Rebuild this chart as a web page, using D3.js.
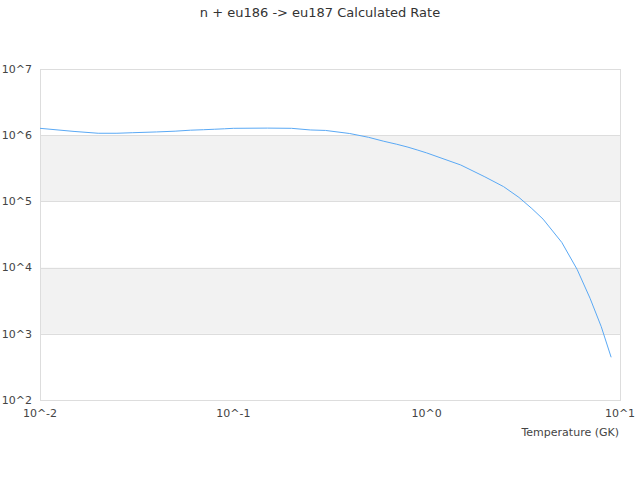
<!DOCTYPE html>
<html>
<head>
<meta charset="utf-8">
<script src="https://cdn.jsdelivr.net/npm/d3@7"></script>
<style>
  body { margin: 0; background: #fff; }
  svg { font-family: "DejaVu Sans", sans-serif; }
</style>
</head>
<body>
<div id="chart"></div>
<script>
// temperatures (GK) and calculated rates
var temps = [0.01, 0.015, 0.02, 0.025, 0.03, 0.04, 0.05, 0.06, 0.07, 0.08, 0.09, 0.1,
    0.15, 0.2, 0.25, 0.3, 0.4, 0.5, 0.6, 0.7, 0.8, 0.9, 1,
    1.5, 2, 2.5, 3, 3.5, 4, 5, 6, 7, 8, 9];
var rates = [1.27e6, 1.14e6, 1.07e6, 1.07e6, 1.09e6, 1.12e6, 1.15e6, 1.19e6, 1.21e6, 1.23e6, 1.25e6, 1.27e6,
    1.28e6, 1.27e6, 1.2e6, 1.18e6, 1.06e6, 9.3e5, 8.1e5, 7.3e5, 6.6e5, 5.95e5, 5.4e5,
    3.55e5, 2.35e5, 1.67e5, 1.15e5, 7.8e4, 5.4e4, 2.4e4, 9.4e3, 3.44e3, 1.28e3, 442];
var xTicks = [0.01, 0.1, 1, 10];
var xTickLabels = ['10^-2', '10^-1', '10^0', '10^1'];
var yTicks = [1e2, 1e3, 1e4, 1e5, 1e6, 1e7];
var yTickLabels = ['10^2', '10^3', '10^4', '10^5', '10^6', '10^7'];

var svgW = 640, svgH = 480;
var plotL = 40, plotR = 620, plotT = 69, plotB = 400;

var svg = d3.select('#chart').append('svg')
    .attr('width', svgW)
    .attr('height', svgH);

var x = d3.scaleLog().domain([0.01, 10]).range([plotL, plotR]);
var y = d3.scaleLog().domain([1e2, 1e7]).range([plotB, plotT]);

// alternating bands
var bands = yTicks.slice(0, -1).map(function(d, i) {
    return { lo: d, hi: yTicks[i + 1], i: i };
}).filter(function(b) { return b.i % 2 === 1; });

svg.selectAll('rect.band')
    .data(bands)
    .enter()
    .append('rect')
    .attr('class', 'band')
    .attr('x', plotL)
    .attr('width', plotR - plotL)
    .attr('y', function(d) { return y(d.hi); })
    .attr('height', function(d) { return y(d.lo) - y(d.hi); })
    .attr('fill', '#f2f2f2');

svg.selectAll('line.grid')
    .data(yTicks)
    .enter()
    .append('line')
    .attr('class', 'grid')
    .attr('x1', plotL)
    .attr('x2', plotR)
    .attr('y1', function(d) { return Math.round(y(d)) + 0.5; })
    .attr('y2', function(d) { return Math.round(y(d)) + 0.5; })
    .attr('stroke', '#dddddd');

svg.append('rect')
    .attr('x', plotL + 0.5)
    .attr('y', plotT + 0.5)
    .attr('width', plotR - plotL)
    .attr('height', plotB - plotT)
    .attr('fill', 'none')
    .attr('stroke', '#dddddd');

// curve
var line = d3.line()
    .x(function(d) { return x(d[0]); })
    .y(function(d) { return y(d[1]); });

svg.append('path')
    .datum(d3.zip(temps, rates))
    .attr('d', line)
    .attr('fill', 'none')
    .attr('stroke', '#5aa9f5')
    .attr('stroke-width', 1);

// axes labels
svg.selectAll('text.ylab')
    .data(yTicks)
    .enter()
    .append('text')
    .attr('class', 'ylab')
    .attr('x', 32)
    .attr('y', function(d) { return y(d); })
    .attr('dy', '0.35em')
    .attr('text-anchor', 'end')
    .attr('font-size', 11)
    .attr('fill', '#444')
    .text(function(d, i) { return yTickLabels[i]; });

svg.selectAll('text.xlab')
    .data(xTicks)
    .enter()
    .append('text')
    .attr('class', 'xlab')
    .attr('x', function(d) { return x(d); })
    .attr('y', 417)
    .attr('text-anchor', 'middle')
    .attr('font-size', 11)
    .attr('fill', '#444')
    .text(function(d, i) { return xTickLabels[i]; });

svg.append('text')
    .attr('x', plotR - 1)
    .attr('y', 436)
    .attr('text-anchor', 'end')
    .attr('font-size', 11)
    .attr('fill', '#444')
    .text('Temperature (GK)');

svg.append('text')
    .attr('x', svgW / 2)
    .attr('y', 17)
    .attr('text-anchor', 'middle')
    .attr('font-size', 13)
    .attr('fill', '#333')
    .text('n + eu186 -> eu187 Calculated Rate');
</script>
</body>
</html>
